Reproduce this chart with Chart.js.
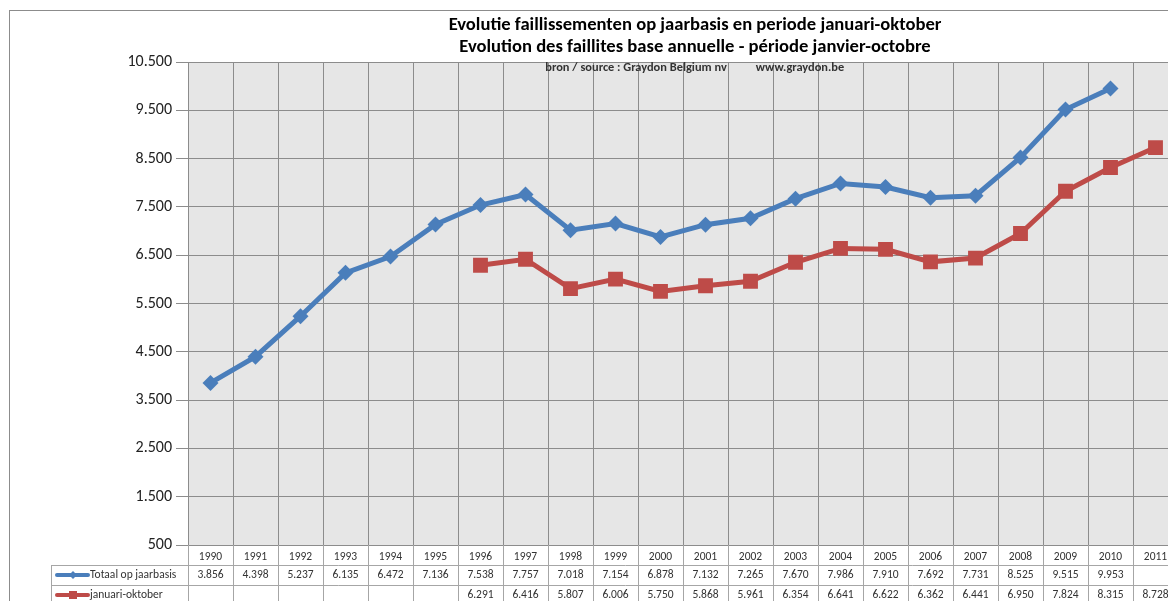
<!DOCTYPE html>
<html>
<head>
<meta charset="utf-8">
<script src="https://cdn.jsdelivr.net/npm/chart.js@4"></script>
<style>
  html, body { margin: 0; padding: 0; background: #fff; overflow: hidden; }
  #wrap { width: 1200px; height: 601px; }
</style>
</head>
<body>
<div id="wrap"><canvas id="faillietChart" width="1200" height="601"></canvas></div>
<script>
const years = ["1990", "1991", "1992", "1993", "1994", "1995", "1996", "1997", "1998", "1999", "2000",
  "2001", "2002", "2003", "2004", "2005", "2006", "2007", "2008", "2009", "2010", "2011"];
const totaalJaarbasis = [3856, 4398, 5237, 6135, 6472, 7136, 7538, 7757, 7018, 7154, 6878,
  7132, 7265, 7670, 7986, 7910, 7692, 7731, 8525, 9515, 9953, null];
const januariOktober = [null, null, null, null, null, null, 6291, 6416, 5807, 6006, 5750,
  5868, 5961, 6354, 6641, 6622, 6362, 6441, 6950, 7824, 8315, 8728];
const yTicks = [500, 1500, 2500, 3500, 4500, 5500, 6500, 7500, 8500, 9500, 10500];

const titleLines = [
  "Evolutie faillissementen op jaarbasis en periode januari-oktober",
  "Evolution des faillites base annuelle - période janvier-octobre"
];
const bronText = "bron / source : Graydon Belgium nv";
const siteText = "www.graydon.be";

const BLUE = "#4a7ebb";
const RED = "#be4b48";
const FONT = "Carlito, 'Liberation Sans', Arial, sans-serif";

// 7538 -> "7.538"
function fmt(v) {
  return String(v).replace(/\B(?=(\d{3})+(?!\d))/g, ".");
}

const frameAndTable = {
  id: "frameAndTable",
  beforeDraw(chart) {
    const ctx = chart.ctx;
    const a = chart.chartArea;
    ctx.save();
    ctx.strokeStyle = "#8c8c8c";
    ctx.lineWidth = 1;
    ctx.strokeRect(9.5, 10.5, chart.width + 20, chart.height + 20);
    ctx.fillStyle = "#e6e6e6";
    ctx.fillRect(a.left, a.top, a.right - a.left, a.bottom - a.top);
    ctx.restore();
  },
  afterDraw(chart) {
    const ctx = chart.ctx;
    const a = chart.chartArea;
    const xs = chart.scales.x;
    const half = (xs.getPixelForValue(1) - xs.getPixelForValue(0)) / 2;
    const rowH = 20;
    const r1 = a.bottom + rowH;
    const r2 = r1 + rowH;
    const tableLeft = 51;

    ctx.save();
    // titles
    ctx.fillStyle = "#000";
    ctx.textAlign = "center";
    ctx.textBaseline = "middle";
    ctx.font = "bold 18.6px " + FONT;
    ctx.fillText(titleLines[0], 695, 25);
    ctx.fillText(titleLines[1], 695, 47);
    ctx.font = "bold 12.4px " + FONT;
    ctx.fillStyle = "#333";
    ctx.fillText(bronText, 636, 68);
    ctx.fillText(siteText, 800, 68);

    // table lines
    ctx.strokeStyle = "#a6a6a6";
    ctx.lineWidth = 1;
    ctx.beginPath();
    [r1, r2].forEach((y) => {
      ctx.moveTo(tableLeft, Math.round(y) + 0.5);
      ctx.lineTo(chart.width, Math.round(y) + 0.5);
    });
    ctx.moveTo(tableLeft + 0.5, r1);
    ctx.lineTo(tableLeft + 0.5, chart.height);
    years.forEach((_, i) => {
      const xb = Math.round(xs.getPixelForValue(i) - half) + 0.5;
      ctx.moveTo(xb, a.bottom);
      ctx.lineTo(xb, chart.height);
    });
    const xe = Math.round(xs.getPixelForValue(years.length - 1) + half) + 0.5;
    ctx.moveTo(xe, a.bottom);
    ctx.lineTo(xe, chart.height);
    ctx.stroke();

    // values
    ctx.font = "11.5px " + FONT;
    ctx.fillStyle = "#333";
    ctx.textAlign = "center";
    const rows = [[totaalJaarbasis, r1 + rowH / 2], [januariOktober, r2 + rowH / 2]];
    rows.forEach(([vals, y]) => {
      vals.forEach((v, i) => {
        if (v !== null) ctx.fillText(fmt(v), xs.getPixelForValue(i), y);
      });
    });

    // legend keys
    const keys = [
      [chart.data.datasets[0], r1 + rowH / 2],
      [chart.data.datasets[1], r2 + rowH / 2]
    ];
    keys.forEach(([ds, y]) => {
      ctx.strokeStyle = ds.borderColor;
      ctx.lineWidth = 4;
      ctx.lineCap = "round";
      ctx.beginPath();
      ctx.moveTo(57, y);
      ctx.lineTo(88, y);
      ctx.stroke();
      ctx.fillStyle = ds.borderColor;
      if (ds.pointStyle === "rect") {
        ctx.fillRect(69, y - 4, 8, 8);
      } else {
        ctx.beginPath();
        ctx.moveTo(73, y - 4);
        ctx.lineTo(77, y);
        ctx.lineTo(73, y + 4);
        ctx.lineTo(69, y);
        ctx.fill();
      }
      ctx.fillStyle = "#333";
      ctx.textAlign = "left";
      ctx.fillText(ds.label, 90, y);
    });
    ctx.restore();
  }
};

new Chart(document.getElementById("faillietChart"), {
  type: "line",
  data: {
    labels: years,
    datasets: [
      {
        label: "Totaal op jaarbasis",
        data: totaalJaarbasis,
        borderColor: BLUE,
        backgroundColor: BLUE,
        borderWidth: 5,
        pointStyle: "rectRot",
        pointRadius: 8,
        pointBorderWidth: 0,
        spanGaps: false,
        tension: 0
      },
      {
        label: "januari-oktober",
        data: januariOktober,
        borderColor: RED,
        backgroundColor: RED,
        borderWidth: 5,
        pointStyle: "rect",
        pointRadius: 10.5,
        pointBorderWidth: 0,
        spanGaps: false,
        tension: 0
      }
    ]
  },
  options: {
    responsive: false,
    animation: false,
    layout: { padding: { top: 62, right: 22, bottom: 0, left: 0 } },
    plugins: {
      legend: { display: false },
      title: { display: false },
      tooltip: { enabled: false }
    },
    scales: {
      x: {
        type: "category",
        offset: true,
        afterFit: (s) => { s.height = 56; },
        grid: { color: "#8c8c8c", offset: true, drawTicks: false },
        border: { color: "#8c8c8c" },
        ticks: { padding: 5, color: "#333", font: { family: FONT, size: 11.5 }, maxRotation: 0, autoSkip: false }
      },
      y: {
        min: 500,
        max: 10500,
        afterFit: (s) => { s.width = 188; },
        afterBuildTicks: (s) => { s.ticks = yTicks.map((v) => ({ value: v })); },
        grid: { color: "#8c8c8c", tickLength: 12 },
        border: { color: "#8c8c8c" },
        ticks: {
          padding: 4,
          color: "#222",
          font: { family: FONT, size: 16 },
          callback: (v) => fmt(v)
        }
      }
    }
  },
  plugins: [frameAndTable]
});
</script>
</body>
</html>
